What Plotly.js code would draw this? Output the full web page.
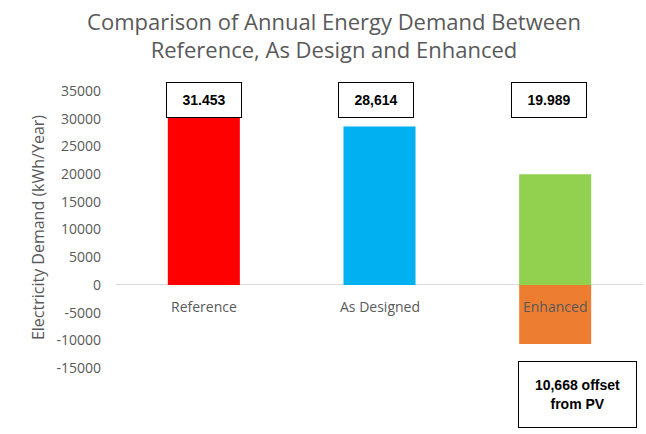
<!DOCTYPE html>
<html>
<head>
<meta charset="utf-8">
<script src="https://cdn.plot.ly/plotly-3.0.1.min.js"></script>
<style>html,body{margin:0;padding:0;background:#fff;}#chart{width:646px;height:434px;}</style>
</head>
<body>
<div id="chart"></div>
<script>
const categories = ["Reference", "As Designed", "Enhanced"];
const demandValues = [31453, 28614, 19989];
const demandColors = ["#FF0000", "#00B0F0", "#92D050"];
const pvOffsetValues = [null, null, -10668];
const valueLabels = ["31.453", "28,614", "19.989"];
const offsetLabel = "10,668 offset<br>from PV";
const yTickVals = [-15000, -10000, -5000, 0, 5000, 10000, 15000, 20000, 25000, 30000, 35000];
const yTickText = ["-15000", "-10000", "-5000", "0", "5000", "10000", "15000", "20000", "25000", "30000", "35000"];

const font = "'Open Sans', 'Noto Sans', sans-serif";
const boldFont = "'Liberation Sans', Arial, sans-serif";
const gray = "#595959";

const traces = [
  {type: "bar", x: categories, y: demandValues, marker: {color: demandColors}, hoverinfo: "skip"},
  {type: "bar", x: categories, y: pvOffsetValues, marker: {color: "#ED7D31"}, hoverinfo: "skip"}
];

const labelShift = [0, -4, -6];
const annotations = [];
categories.forEach((c, i) => {
  annotations.push({
    x: c, y: 0, xref: "x", yref: "y", yanchor: "middle", yshift: -22,
    text: c, showarrow: false, font: {family: font, size: 14, color: gray}
  });
  annotations.push({
    x: c, y: 0.9675, xref: "x", yref: "paper", xanchor: "center", yanchor: "middle",
    xshift: labelShift[i],
    text: valueLabels[i], showarrow: false,
    font: {family: boldFont, size: 14, color: "#000", weight: "bold"},
    bgcolor: "#fff", bordercolor: "#000", borderwidth: 1, borderpad: 1,
    width: 72, height: 32
  });
});
annotations.push({
  x: categories[2], y: -0.0957, xref: "x", yref: "paper", xanchor: "center", yanchor: "middle",
  xshift: 22,
  text: offsetLabel, showarrow: false,
  font: {family: boldFont, size: 14, color: "#000", weight: "bold"},
  bgcolor: "#fff", bordercolor: "#000", borderwidth: 1, borderpad: 1,
  width: 115, height: 63
});
annotations.push({
  x: 0, y: 0.505, xref: "paper", yref: "paper", xanchor: "center", yanchor: "middle",
  xshift: -78,
  text: "Electricity Demand (kWh/Year)", textangle: -90, showarrow: false,
  font: {family: font, size: 16, color: gray}
});

const layout = {
  width: 646, height: 434,
  margin: {l: 116, r: 3, t: 91, b: 66},
  paper_bgcolor: "#fff", plot_bgcolor: "#fff",
  showlegend: false,
  barmode: "relative",
  bargap: 0.59,
  title: {
    text: "Comparison of Annual Energy Demand Between<br>Reference, As Design and Enhanced",
    x: 0.517, xanchor: "center", xref: "container",
    y: 0.932, yanchor: "top", yref: "container",
    font: {family: font, size: 22, color: gray}
  },
  xaxis: {showticklabels: false, showgrid: false, zeroline: false, showline: false, ticks: ""},
  yaxis: {
    range: [-15000, 35000], tickvals: yTickVals, ticktext: yTickText, showgrid: false,
    zeroline: true, zerolinecolor: "#D9D9D9", zerolinewidth: 1,
    showline: false, ticks: "", ticklabelstandoff: 14,
    tickfont: {family: font, size: 14, color: gray}
  },
  annotations: annotations
};

Plotly.newPlot("chart", traces, layout, {staticPlot: true, displayModeBar: false});
</script>
</body>
</html>
